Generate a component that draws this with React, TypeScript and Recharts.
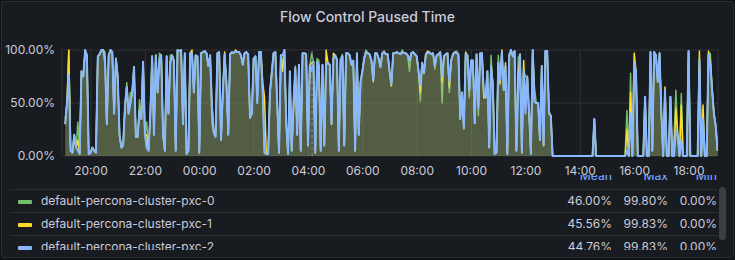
import { ComposedChart, Area, XAxis, YAxis, CartesianGrid, ReferenceLine } from "recharts";

const seriesNames = [
  "default-percona-cluster-pxc-0",
  "default-percona-cluster-pxc-1",
  "default-percona-cluster-pxc-2",
];
const seriesKeys = ["pxc0", "pxc1", "pxc2"];
const seriesColors = ["#73bf69", "#fade2a", "#8ab8ff"];
const seriesFillOpacity = [0.15, 0.18, 0.12];
const seriesLineWidth = [1.5, 1.5, 2];

const legendMean = ["46.00%", "45.56%", "44.76%"];
const legendMax = ["99.80%", "99.83%", "99.83%"];
const legendMin = ["0.00%", "0.00%", "0.00%"];

// minutes from 00:00 of the first day; samples every 4 minutes from 19:03
const startMinute = 1143;
const stepMinutes = 4;
const xTicks = [1200, 1320, 1440, 1560, 1680, 1800, 1920, 2040, 2160, 2280, 2400, 2520];
const yTicks = [0, 50, 100];
const annotationMinute = 1688;

// percent values (one line = 80 minutes)
const pxc0 = [
  35, 50, 99, 5, 3, 20, 8, 32, 2, 80, 75, 98, 95, 2, 3, 8, 5, 3, 94, 96,
  100, 100, 98, 30, 95, 100, 98, 40, 92, 75, 20, 8, 10, 47, 69, 40, 60, 60, 84, 18,
  18, 53, 35, 89, 20, 32, 5, 40, 94, 20, 95, 60, 97, 95, 20, 5, 94, 40, 95, 95,
  90, 5, 100, 99, 100, 30, 97, 2, 5, 97, 97, 60, 95, 94, 3, 97, 98, 99, 97, 85,
  95, 30, 22, 18, 97, 98, 15, 60, 96, 69, 20, 96, 98, 97, 99, 98, 98, 95, 86, 97,
  98, 96, 36, 40, 92, 94, 50, 98, 98, 60, 3, 2, 2, 60, 80, 97, 98, 50, 3, 95,
  88, 100, 30, 2, 80, 5, 48, 85, 20, 86, 5, 97, 97, 96, 10, 85, 97, 89, 3, 92,
  90, 5, 86, 10, 86, 88, 86, 30, 92, 95, 91, 5, 91, 96, 10, 97, 97, 95, 86, 90,
  5, 97, 20, 70, 80, 92, 100, 97, 96, 90, 72, 97, 97, 92, 84, 97, 98, 96, 96, 80,
  68, 97, 97, 98, 97, 96, 100, 97, 97, 95, 80, 97, 98, 96, 94, 80, 52, 88, 78, 96,
  97, 98, 96, 97, 82, 95, 96, 98, 50, 94, 96, 97, 60, 90, 96, 98, 99, 96, 35, 60,
  26, 96, 95, 55, 90, 90, 31, 96, 38, 97, 97, 60, 55, 80, 8, 95, 65, 2, 3, 95,
  72, 98, 62, 85, 2, 95, 100, 94, 99, 5, 93, 96, 3, 81, 75, 75, 42, 2, 100, 64,
  50, 50, 15, 85, 10, 99, 99, 40, 38, 0, 0, 0, 0, 0, 0, 0, 0, 0, 0, 0,
  0, 0, 0, 0, 0, 0, 0, 0, 0, 0, 0, 0, 35, 0, 0, 0, 0, 0, 0, 0,
  0, 0, 0, 0, 0, 0, 0, 0, 0, 0, 43, 0, 78, 0, 88, 80, 0, 0, 0, 0,
  56, 0, 0, 98, 5, 98, 95, 70, 97, 40, 0, 62, 0, 0, 56, 0, 18, 62, 20, 0,
  59, 0, 0, 0, 99, 0, 0, 0, 0, 0, 91, 0, 35, 0, 0, 96, 97, 64, 40, 28,
  5,
];

const pxc1 = [
  30, 50, 100, 5, 3, 20, 8, 15, 2, 80, 75, 100, 95, 2, 3, 8, 5, 6, 94, 96,
  100, 100, 92, 30, 95, 100, 98, 40, 92, 75, 20, 8, 10, 47, 65, 40, 50, 60, 84, 18,
  18, 43, 35, 89, 20, 20, 5, 40, 94, 20, 95, 60, 91, 95, 20, 5, 94, 40, 88, 95,
  90, 5, 100, 99, 100, 30, 97, 2, 5, 97, 100, 60, 95, 94, 3, 97, 98, 99, 97, 85,
  95, 48, 22, 20, 97, 98, 15, 60, 98, 66, 20, 96, 98, 97, 100, 98, 98, 95, 88, 97,
  98, 96, 36, 40, 92, 94, 56, 98, 98, 70, 55, 2, 2, 60, 78, 97, 98, 50, 3, 95,
  80, 100, 30, 2, 75, 5, 42, 83, 20, 86, 5, 97, 97, 96, 10, 85, 88, 89, 3, 89,
  85, 5, 86, 10, 100, 88, 86, 30, 97, 95, 91, 5, 91, 94, 10, 97, 97, 95, 86, 90,
  5, 97, 20, 70, 80, 92, 98, 97, 96, 90, 70, 97, 97, 92, 84, 97, 99, 96, 96, 80,
  66, 97, 97, 98, 97, 96, 98, 97, 97, 95, 90, 97, 98, 96, 94, 80, 60, 88, 78, 96,
  99, 98, 96, 97, 85, 95, 96, 98, 70, 94, 96, 97, 65, 90, 96, 98, 97, 96, 35, 60,
  26, 98, 95, 62, 90, 90, 31, 96, 48, 97, 97, 55, 55, 80, 8, 85, 70, 2, 3, 88,
  68, 100, 62, 88, 2, 95, 100, 95, 99, 5, 80, 92, 3, 90, 52, 75, 38, 2, 100, 51,
  50, 50, 15, 85, 10, 99, 99, 42, 38, 0, 0, 0, 0, 0, 0, 0, 0, 0, 0, 0,
  0, 0, 0, 0, 0, 0, 0, 0, 0, 0, 0, 0, 35, 0, 0, 0, 0, 0, 0, 0,
  0, 0, 0, 0, 0, 0, 0, 0, 0, 0, 25, 0, 60, 0, 97, 80, 0, 0, 0, 0,
  56, 0, 0, 98, 5, 98, 95, 70, 97, 40, 0, 65, 0, 0, 56, 0, 0, 45, 20, 0,
  48, 0, 0, 0, 99, 0, 0, 0, 0, 0, 99, 0, 48, 0, 0, 99, 90, 62, 40, 28,
  5,
];

const pxc2 = [
  30, 50, 77, 5, 3, 20, 8, 5, 2, 80, 75, 100, 95, 2, 3, 8, 5, 3, 94, 96,
  100, 100, 88, 30, 95, 100, 98, 40, 92, 75, 20, 8, 10, 47, 65, 40, 50, 60, 84, 18,
  18, 43, 35, 89, 20, 8, 5, 40, 94, 20, 95, 60, 91, 95, 20, 5, 94, 40, 88, 95,
  90, 5, 100, 99, 100, 30, 97, 2, 5, 97, 97, 60, 95, 94, 3, 97, 98, 99, 97, 85,
  95, 47, 22, 18, 97, 98, 15, 60, 96, 69, 20, 96, 98, 97, 99, 98, 98, 95, 86, 97,
  98, 96, 36, 40, 92, 94, 50, 98, 98, 60, 3, 2, 2, 60, 78, 97, 98, 50, 3, 95,
  95, 100, 30, 2, 80, 5, 50, 83, 20, 86, 5, 97, 97, 96, 10, 85, 80, 89, 3, 89,
  85, 5, 86, 10, 86, 88, 86, 30, 92, 95, 91, 5, 91, 94, 10, 97, 97, 95, 86, 90,
  5, 97, 20, 70, 80, 92, 98, 97, 96, 90, 72, 97, 97, 92, 84, 97, 98, 96, 96, 80,
  68, 97, 97, 98, 97, 96, 98, 97, 97, 95, 90, 97, 98, 96, 94, 80, 67, 88, 78, 96,
  97, 98, 96, 97, 85, 95, 96, 98, 75, 94, 96, 97, 70, 90, 96, 98, 97, 96, 35, 60,
  26, 96, 95, 62, 90, 90, 31, 96, 45, 97, 97, 60, 55, 80, 8, 85, 65, 2, 3, 88,
  72, 98, 62, 85, 2, 95, 100, 94, 99, 5, 60, 96, 3, 81, 40, 75, 42, 2, 100, 51,
  50, 50, 15, 85, 10, 99, 99, 40, 38, 0, 0, 0, 0, 0, 0, 0, 0, 0, 0, 0,
  0, 0, 0, 0, 0, 0, 0, 0, 0, 0, 0, 0, 35, 0, 0, 0, 0, 0, 0, 0,
  0, 0, 0, 0, 0, 0, 0, 0, 0, 0, 5, 0, 40, 0, 88, 80, 0, 0, 0, 0,
  56, 0, 0, 98, 5, 98, 95, 70, 97, 40, 0, 62, 0, 0, 56, 0, 0, 24, 20, 0,
  15, 0, 0, 0, 99, 0, 0, 0, 0, 0, 91, 0, 35, 0, 0, 96, 86, 62, 40, 28,
  5,
];

const data = pxc2.map((v, i) => ({
  t: startMinute + i * stepMinutes,
  pxc0: pxc0[i],
  pxc1: pxc1[i],
  pxc2: v,
}));

const fmtTime = (m: number) => {
  const h = Math.floor(m / 60) % 24;
  const mm = m % 60;
  return `${String(h).padStart(2, "0")}:${String(mm).padStart(2, "0")}`;
};

const textColor = "#ccccdc";
const font = "Inter, 'Noto Sans', sans-serif";
const valueCols = [106, 50, 1];

export default function App() {
  return (
    <div style={{ position: "relative", width: 735, height: 260, background: "#111217", fontFamily: font }}>
      <style>{"body{margin:0;background:#111217}"}</style>
      <div
        style={{
          position: "absolute",
          left: 1,
          top: 1,
          width: 733,
          height: 257,
          boxSizing: "border-box",
          background: "#181b1f",
          border: "1px solid #2a2d32",
          borderRadius: 3,
        }}
      />
      <div
        style={{
          position: "absolute",
          left: 0,
          top: 8,
          width: 735,
          textAlign: "center",
          fontSize: 14,
          fontWeight: 500,
          color: textColor,
          lineHeight: "18px",
        }}
      >
        Flow Control Paused Time
      </div>
      <div style={{ position: "absolute", left: 0, top: 0 }}>
        <ComposedChart
          width={735}
          height={178}
          data={data}
          margin={{ top: 50, right: 17, bottom: 2, left: 5 }}
        >
          <CartesianGrid stroke="#2e3136" strokeWidth={1} />
          <XAxis
            dataKey="t"
            type="number"
            domain={[1136, 2584]}
            ticks={xTicks}
            tickFormatter={fmtTime}
            tick={{ fill: textColor, fontSize: 12, fontFamily: font }}
            axisLine={false}
            tickLine={false}
            tickSize={6}
            tickMargin={4}
            height={20}
            allowDataOverflow
          />
          <YAxis
            type="number"
            domain={[0, 100]}
            ticks={yTicks}
            tickFormatter={(v: number) => `${v.toFixed(2)}%`}
            tick={{ fill: textColor, fontSize: 12, fontFamily: font }}
            axisLine={false}
            tickLine={false}
            tickSize={6}
            tickMargin={1}
            width={57}
          />
          {seriesKeys.map((k, i) => (
            <Area
              key={k}
              type="linear"
              dataKey={k}
              stroke={seriesColors[i]}
              strokeWidth={seriesLineWidth[i]}
              strokeLinejoin="round"
              fill={seriesColors[i]}
              fillOpacity={seriesFillOpacity[i]}
              dot={false}
              activeDot={false}
              isAnimationActive={false}
            />
          ))}
          <ReferenceLine x={annotationMinute} stroke="#7d8db3" strokeDasharray="3 3" />
        </ComposedChart>
      </div>
      <div
        style={{
          position: "absolute",
          left: 10,
          top: 175,
          width: 708,
          height: 75,
          overflow: "hidden",
          fontSize: 12,
          color: textColor,
        }}
      >
        {["Mean", "Max", "Min"].map((h, j) => (
          <div
            key={h}
            style={{
              position: "absolute",
              top: -6,
              right: valueCols[j],
              lineHeight: "14px",
              color: "#6e9fff",
              fontWeight: 500,
            }}
          >
            {h}
          </div>
        ))}
        {seriesNames.map((name, i) => (
          <div
            key={name}
            style={{
              position: "absolute",
              left: 0,
              right: 0,
              top: 14 + i * 23,
              height: 23,
              boxSizing: "border-box",
              borderTop: "1px solid #2a2d33",
            }}
          >
            <div
              style={{
                position: "absolute",
                left: 8,
                top: 10,
                width: 14,
                height: 4,
                borderRadius: 1,
                background: seriesColors[i],
              }}
            />
            <div style={{ position: "absolute", left: 31, top: 4, lineHeight: "14px" }}>{name}</div>
            {[legendMean[i], legendMax[i], legendMin[i]].map((v, j) => (
              <div
                key={j}
                style={{ position: "absolute", top: 4, right: valueCols[j], lineHeight: "14px" }}
              >
                {v}
              </div>
            ))}
          </div>
        ))}
      </div>
      <div
        style={{
          position: "absolute",
          left: 719,
          top: 187,
          width: 7,
          height: 53,
          borderRadius: 4,
          background: "#3b3e43",
        }}
      />
    </div>
  );
}
